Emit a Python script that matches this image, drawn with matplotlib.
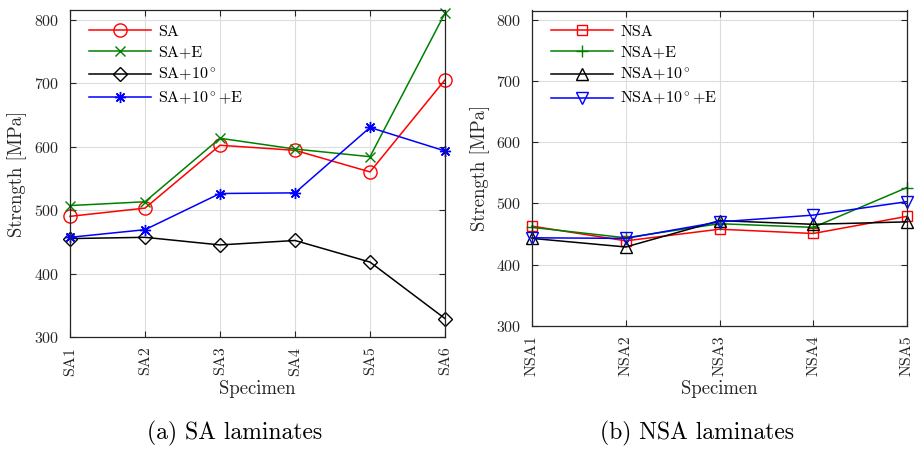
import matplotlib
matplotlib.use("Agg")
import matplotlib.pyplot as plt

plt.rcParams["font.family"] = "cmr10"
plt.rcParams["mathtext.fontset"] = "cm"
plt.rcParams["axes.formatter.use_mathtext"] = True

# strength values [MPa]
sa_labels = ["SA1", "SA2", "SA3", "SA4", "SA5", "SA6"]
sa = [490, 503, 602, 594, 560, 705]
sa_e = [507, 513, 613, 596, 584, 810]
sa_10 = [455, 457, 445, 452, 418, 329]
sa_10_e = [457, 469, 526, 527, 630, 593]

nsa_labels = ["NSA1", "NSA2", "NSA3", "NSA4", "NSA5"]
nsa = [463, 439, 458, 451, 479]
nsa_e = [461, 444, 467, 461, 526]
nsa_10 = [443, 429, 472, 466, 470]
nsa_10_e = [444, 443, 470, 481, 503]

W, H = 915, 449
fig = plt.figure(figsize=(W / 100, H / 100), dpi=100)

dark = "#262626"


def style_axes(ax, labels):
    ax.set_xticks(range(1, len(labels) + 1))
    ax.set_xticklabels(labels, rotation=90)
    ax.set_xlim(1, len(labels))
    ax.set_ylim(300, 815)
    ax.set_yticks([300, 400, 500, 600, 700, 800])
    ax.grid(True, color="#dcdcdc", linewidth=0.8)
    ax.set_axisbelow(True)
    ax.tick_params(direction="in", top=True, right=True, length=4,
                   labelsize=11.5, colors=dark, width=0.8)
    ax.tick_params(axis="x", pad=7)
    ax.tick_params(axis="y", pad=8)
    for s in ax.spines.values():
        s.set_color(dark)
        s.set_linewidth(0.9)
    ax.set_xlabel("Specimen", fontsize=13.5, color=dark)
    ax.set_ylabel("Strength [MPa]", fontsize=13.5, color=dark)


def draw(ax, labels, series, names, markers, sizes):
    x = list(range(1, len(labels) + 1))
    colors = ["red", "green", "black", "blue"]
    for y, name, m, ms, c in zip(series, names, markers, sizes, colors):
        ax.plot(x, y, color=c, marker=m, markersize=ms, markerfacecolor="none",
                markeredgewidth=1.0, linewidth=1.1, label=name, clip_on=False)
    ax.legend(loc="upper left", frameon=False, fontsize=11.5, handlelength=3.9,
              handletextpad=0.45, labelspacing=0.4, borderaxespad=0.3,
              bbox_to_anchor=(0.02, 0.99))


ax1 = fig.add_axes([70 / W, (H - 337) / H, 375 / W, 327 / H])
draw(ax1, sa_labels, [sa, sa_e, sa_10, sa_10_e],
     ["SA", "SA+E", r"SA+10$^\circ$", r"SA+10$^\circ$+E"],
     ["o", "x", "D", (8, 2, 0)], [9.5, 7, 7, 8])
style_axes(ax1, sa_labels)
ax1.xaxis.set_label_coords(0.5, (337 - 380) / 327)
ax1.yaxis.set_label_coords((27 - 70) / 375, 0.5)

ax2 = fig.add_axes([532 / W, (H - 326) / H, 375 / W, 315.5 / H])
draw(ax2, nsa_labels, [nsa, nsa_e, nsa_10, nsa_10_e],
     ["NSA", "NSA+E", r"NSA+10$^\circ$", r"NSA+10$^\circ$+E"],
     ["s", "+", "^", "v"], [7.5, 8, 9, 9])
style_axes(ax2, nsa_labels)
ax2.xaxis.set_label_coords(0.5, (326 - 380) / 315.5)
ax2.yaxis.set_label_coords((490 - 532) / 375, 0.5)

fig.text(235 / W, 1 - 433 / H, "(a) SA laminates", ha="center", va="center",
         fontsize=17)
fig.text(697 / W, 1 - 433 / H, "(b) NSA laminates", ha="center", va="center",
         fontsize=17)

fig.savefig("out.png", dpi=100)
